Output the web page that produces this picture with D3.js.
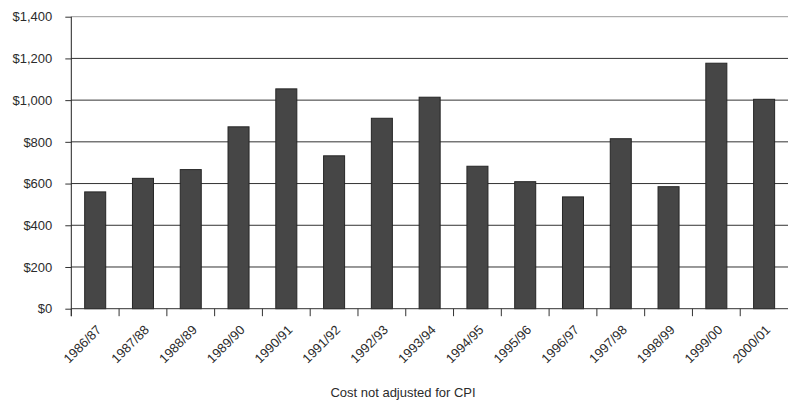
<!DOCTYPE html>
<html>
<head>
<meta charset="utf-8">
<script src="https://cdn.jsdelivr.net/npm/d3@7"></script>
<style>
  html, body { margin: 0; padding: 0; background: #fff; }
  svg { display: block; }
  text { font-family: "Liberation Sans", Arial, sans-serif; fill: #2b2b2b; }
</style>
</head>
<body>
<svg id="chart" width="788" height="402"></svg>
<script>
const categories = ["1986/87","1987/88","1988/89","1989/90","1990/91","1991/92","1992/93","1993/94","1994/95","1995/96","1996/97","1997/98","1998/99","1999/00","2000/01"];
const costs = [560, 625, 667, 872, 1054, 733, 913, 1014, 683, 609, 536, 815, 585, 1177, 1004];
const yTicks = [0, 200, 400, 600, 800, 1000, 1200, 1400];
const axisTitle = "Cost not adjusted for CPI";

(function () {
const svg = d3.select("#chart");
const mLeft = 71.3, mRight = 788, mTop = 16.7, mBottom = 308.7;

const x = d3.scaleBand().domain(categories).range([mLeft, mRight]).paddingInner(0.56).paddingOuter(0.28);
const y = d3.scaleLinear().domain([0, 1400]).range([mBottom, mTop]);
const step = x.step(), gap = (step - x.bandwidth()) / 2;
const fmt = v => "$" + d3.format(",")(v);

// gridlines
svg.append("g").selectAll("line").data(yTicks.filter(d => d > 0)).join("line")
  .attr("x1", mLeft).attr("x2", mRight)
  .attr("y1", d => y(d)).attr("y2", d => y(d))
  .attr("stroke", d => d === 1400 ? "#999" : "#333").attr("stroke-width", 1);

// y axis
const yAxis = svg.append("g").attr("transform", `translate(${mLeft},0)`)
  .call(d3.axisLeft(y).tickValues(yTicks).tickFormat(fmt).tickSize(6).tickPadding(13));
yAxis.select(".domain").remove();
yAxis.selectAll(".tick line").attr("stroke", "#333");
yAxis.selectAll(".tick text").style("font-size", "13px").attr("fill", "#2b2b2b")
  .style("font-family", "'Liberation Sans', Arial, sans-serif");
svg.append("line").attr("x1", mLeft).attr("x2", mLeft).attr("y1", mTop).attr("y2", mBottom + 7.5)
  .attr("stroke", "#222");

// bars
svg.append("g").selectAll("rect").data(categories).join("rect")
  .attr("x", d => x(d)).attr("width", x.bandwidth())
  .attr("y", (d, i) => y(costs[i])).attr("height", (d, i) => y(0) - y(costs[i]))
  .attr("fill", "#464646").attr("stroke", "#262626").attr("stroke-width", 1);

// x axis baseline
svg.append("line").attr("x1", mLeft).attr("x2", mRight).attr("y1", mBottom).attr("y2", mBottom)
  .attr("stroke", "#333");
// category boundary ticks
svg.append("g").selectAll("line").data(categories).join("line")
  .attr("x1", d => x(d) - gap).attr("x2", d => x(d) - gap)
  .attr("y1", mBottom).attr("y2", mBottom + 7.5).attr("stroke", "#333");

// x tick labels
svg.append("g").selectAll("text").data(categories).join("text")
  .attr("transform", d => `translate(${x(d) + x.bandwidth() / 2 + 7},${mBottom + 22}) rotate(-45)`)
  .attr("text-anchor", "end").style("font-size", "13px").text(d => d);

// axis title
svg.append("text").attr("x", 403).attr("y", 397).attr("text-anchor", "middle")
  .style("font-size", "13px").text(axisTitle);
})();
</script>
</body>
</html>
